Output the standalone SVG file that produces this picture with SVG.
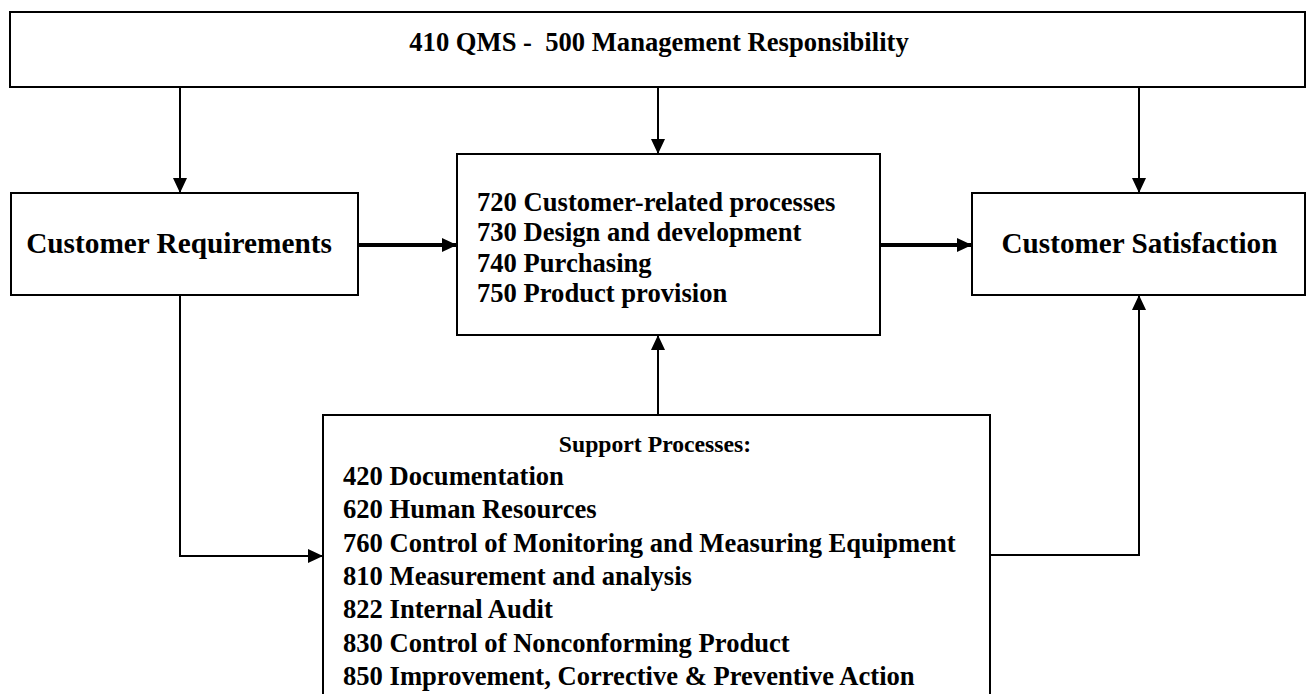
<svg xmlns="http://www.w3.org/2000/svg" width="1307" height="694" viewBox="0 0 1307 694">
<style>
.box{fill:#fff;stroke:#000;stroke-width:2}
.t{font-family:"Liberation Serif","Times New Roman",serif;font-weight:bold;fill:#000}
.c{stroke:#000;fill:none}
.thin{stroke-width:2}
.thick{stroke-width:4}
</style>
<defs>
<marker id="ah" markerUnits="userSpaceOnUse" markerWidth="16" markerHeight="16" viewBox="0 0 16 16" refX="15" refY="8" orient="auto">
<path d="M0,1 L15,8 L0,15 Z" fill="#000"/>
</marker>
</defs>
<rect width="1307" height="694" fill="#fff"/>
<g id="connectors">
<path class="c thin" d="M180,87 V193" marker-end="url(#ah)"/>
<path class="c thin" d="M658,87 V154" marker-end="url(#ah)"/>
<path class="c thin" d="M1139,87 V193" marker-end="url(#ah)"/>
<path class="c thick" d="M358,245 H457" marker-end="url(#ah)"/>
<path class="c thick" d="M880,245 H972" marker-end="url(#ah)"/>
<path class="c thin" d="M658,415 V335" marker-end="url(#ah)"/>
<path class="c thin" d="M180,295 V556 H323" marker-end="url(#ah)"/>
<path class="c thin" d="M990,555 H1139 V295" marker-end="url(#ah)"/>
</g>
<g id="qms">
<rect class="box" x="10" y="12" width="1295" height="75"/>
<text class="t" x="659" y="51" font-size="26.6" text-anchor="middle" xml:space="preserve">410 QMS -  500 Management Responsibility</text>
</g>
<g id="customer-requirements">
<rect class="box" x="11" y="193" width="347" height="102"/>
<text class="t" x="179" y="253" font-size="29.3" text-anchor="middle">Customer Requirements</text>
</g>
<g id="product-realization">
<rect class="box" x="457" y="154" width="423" height="181"/>
<text class="t" font-size="26.6">
<tspan x="477" y="210.5">720 Customer-related processes</tspan>
<tspan x="477" y="241">730 Design and development</tspan>
<tspan x="477" y="271.5">740 Purchasing</tspan>
<tspan x="477" y="302">750 Product provision</tspan>
</text>
</g>
<g id="customer-satisfaction">
<rect class="box" x="972" y="193" width="333" height="102"/>
<text class="t" x="1139.5" y="253" font-size="29.2" text-anchor="middle">Customer Satisfaction</text>
</g>
<g id="support-processes">
<rect class="box" x="323" y="415" width="667" height="290"/>
<text class="t" x="655" y="452" font-size="23.7" text-anchor="middle">Support Processes:</text>
<text class="t" font-size="26.6">
<tspan x="343" y="485">420 Documentation</tspan>
<tspan x="343" y="518">620 Human Resources</tspan>
<tspan x="343" y="552">760 Control of Monitoring and Measuring Equipment</tspan>
<tspan x="343" y="585">810 Measurement and analysis</tspan>
<tspan x="343" y="618">822 Internal Audit</tspan>
<tspan x="343" y="652">830 Control of Nonconforming Product</tspan>
<tspan x="343" y="685">850 Improvement, Corrective &amp; Preventive Action</tspan>
</text>
</g>
</svg>
